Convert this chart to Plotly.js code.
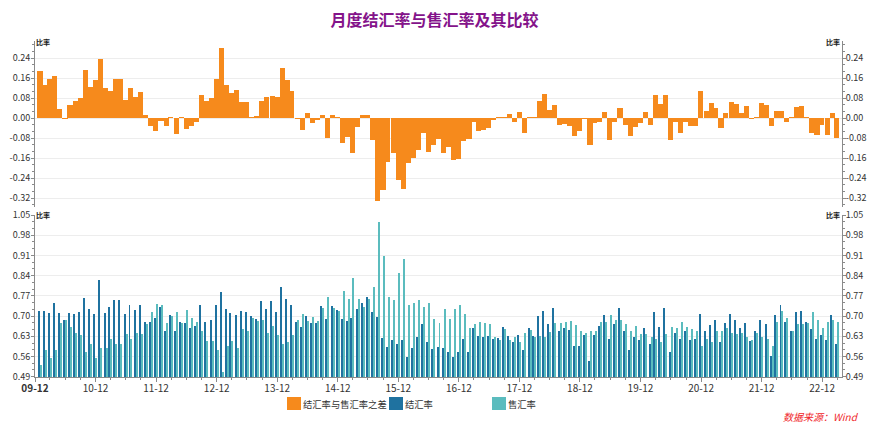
<!DOCTYPE html>
<html><head><meta charset="utf-8">
<script src="https://cdn.plot.ly/plotly-3.0.1.min.js"></script>
<style>html,body{margin:0;padding:0;background:#fff}#chart{width:869px;height:424px}</style>
</head><body><div id="chart"></div>
<script>
// ---- data (monthly, 2009-12 .. 2023-02) ----
const firstMonth = [2009, 12];
const diffRate = [0.188,0.132,0.156,0.168,0.036,-0.004,0.052,0.068,0.080,0.192,0.124,0.152,0.236,0.120,0.108,0.156,0.156,0.072,0.120,0.084,
0.104,0.012,-0.032,-0.052,-0.010,-0.030,0.003,-0.064,0.003,-0.044,-0.032,-0.016,0.092,0.068,0.080,0.156,0.280,0.132,0.100,0.112,
0.064,0.064,0.003,0.007,0.068,0.084,0.088,0.084,0.200,0.152,0.108,-0.005,-0.048,0.020,-0.020,-0.007,0.012,-0.080,0.012,0.003,
-0.100,-0.077,-0.140,-0.036,0.012,0.012,-0.088,-0.332,-0.288,-0.176,-0.140,-0.248,-0.284,-0.180,-0.160,-0.128,-0.060,-0.136,-0.107,-0.084,
-0.140,-0.115,-0.168,-0.165,-0.092,-0.084,-0.015,-0.052,-0.048,-0.040,-0.008,0.005,0.005,0.016,-0.016,0.024,-0.060,0.005,0.005,0.068,
0.096,0.032,0.052,-0.028,-0.024,-0.032,-0.072,-0.052,-0.005,-0.108,-0.020,-0.016,0.024,-0.088,-0.016,0.040,-0.028,-0.072,-0.036,-0.020,
0.024,-0.028,0.092,0.056,0.092,-0.088,-0.016,-0.060,-0.016,-0.032,-0.032,0.108,0.028,0.060,0.040,-0.040,0.020,0.064,0.056,0.020,
0.048,-0.005,0.005,0.060,0.052,-0.032,0.028,0.028,-0.016,0.003,0.044,0.047,0.005,-0.060,-0.068,-0.028,-0.068,0.020,-0.080];
const settleRate = [0.716,0.716,0.709,0.747,0.709,0.685,0.709,0.706,0.713,0.761,0.723,0.706,0.824,0.709,0.730,0.754,0.754,0.706,0.740,0.720,
0.740,0.681,0.681,0.692,0.730,0.647,0.704,0.650,0.680,0.675,0.657,0.665,0.737,0.678,0.688,0.737,0.782,0.723,0.709,0.702,
0.716,0.713,0.699,0.690,0.751,0.723,0.751,0.713,0.800,0.758,0.740,0.680,0.661,0.699,0.675,0.675,0.734,0.689,0.734,0.720,
0.689,0.682,0.692,0.724,0.745,0.765,0.713,0.696,0.623,0.592,0.616,0.602,0.616,0.557,0.588,0.627,0.672,0.609,0.585,0.592,
0.588,0.574,0.557,0.574,0.620,0.574,0.658,0.630,0.627,0.630,0.620,0.623,0.661,0.630,0.609,0.633,0.581,0.658,0.630,0.699,
0.717,0.672,0.727,0.647,0.658,0.651,0.598,0.598,0.633,0.543,0.633,0.664,0.702,0.619,0.671,0.727,0.647,0.584,0.629,0.616,
0.657,0.602,0.713,0.661,0.727,0.577,0.640,0.622,0.647,0.616,0.622,0.706,0.647,0.668,0.688,0.609,0.675,0.706,0.688,0.657,
0.675,0.612,0.647,0.685,0.671,0.563,0.702,0.740,0.678,0.650,0.713,0.716,0.681,0.654,0.619,0.633,0.616,0.702,0.605];
const saleRate = [0.532,0.584,0.556,0.581,0.675,0.688,0.661,0.640,0.633,0.574,0.602,0.556,0.591,0.591,0.622,0.602,0.602,0.637,0.622,0.640,
0.637,0.671,0.713,0.743,0.740,0.676,0.701,0.713,0.677,0.720,0.692,0.681,0.647,0.612,0.612,0.584,0.508,0.595,0.612,0.591,
0.654,0.649,0.695,0.684,0.685,0.643,0.664,0.633,0.602,0.609,0.633,0.686,0.706,0.682,0.696,0.682,0.727,0.765,0.727,0.717,
0.786,0.758,0.831,0.758,0.731,0.758,0.800,1.026,0.908,0.765,0.755,0.849,0.897,0.738,0.745,0.755,0.731,0.745,0.689,0.675,
0.724,0.689,0.724,0.738,0.706,0.658,0.672,0.679,0.675,0.672,0.627,0.616,0.654,0.616,0.627,0.609,0.640,0.651,0.627,0.630,
0.627,0.644,0.675,0.675,0.679,0.682,0.668,0.650,0.640,0.647,0.650,0.681,0.681,0.702,0.688,0.688,0.671,0.650,0.664,0.637,
0.637,0.629,0.622,0.609,0.637,0.661,0.657,0.678,0.661,0.654,0.650,0.598,0.619,0.609,0.650,0.647,0.657,0.643,0.637,0.640,
0.626,0.616,0.643,0.629,0.622,0.598,0.681,0.716,0.692,0.650,0.671,0.671,0.675,0.713,0.685,0.657,0.681,0.685,0.681];
const xTickLabels = ['<b>09-12</b>','10-12','11-12','12-12','13-12','14-12','15-12','16-12','17-12','18-12','19-12','20-12','21-12','22-12'];
const xTickDates = ['2009-12-01','2010-12-01','2011-12-01','2012-12-01','2013-12-01','2014-12-01','2015-12-01','2016-12-01','2017-12-01','2018-12-01','2019-12-01','2020-12-01','2021-12-01','2022-12-01'];
const topTickVals = [-0.32,-0.24,-0.16,-0.08,0,0.08,0.16,0.24];
const topTickText = ['-0.32','-0.24','-0.16','-0.08','0.00','0.08','0.16','0.24'];
const botTickVals = [0.49,0.56,0.63,0.70,0.77,0.84,0.91,0.98,1.05];
const botTickText = ['0.49','0.56','0.63','0.70','0.77','0.84','0.91','0.98','1.05'];
const seriesNames = ['结汇率与售汇率之差','结汇率','售汇率'];
const colors = ['#f68a1c','#1f72a0','#5bbcbe'];

// month-end dates for each value
const months = settleRate.map((_, i) => new Date(Date.UTC(firstMonth[0], firstMonth[1] - 1 + i + 1, 0)).toISOString().slice(0, 10));

// ---- layout geometry (px) ----
const W = 869, H = 424, ML = 35, MR = 27, MT = 41, MB = 47;
const PW = W - ML - MR, PH = H - MT - MB;
const px2x = p => (p - ML) / PW;
const px2y = p => (H - MB - p) / PH;
const DAY = 86400000;
const xRange = ['2009-12-01', '2023-03-31'];
const fontCJK = '"Noto Sans CJK SC", "Noto Sans", sans-serif';
const axisCol = '#8a8a8a', gridCol = '#ededed';
const tickFont = {family: fontCJK, size: 9, color: '#333'};

const traces = [
  {type: 'bar', name: seriesNames[0], x: months, y: diffRate, xaxis: 'x2', yaxis: 'y2',
   width: 30.6 * DAY, marker: {color: colors[0], line: {width: 0}}, showlegend: false},
  {type: 'bar', name: seriesNames[1], x: months, y: settleRate, xaxis: 'x', yaxis: 'y',
   width: 12 * DAY, offset: -12 * DAY, marker: {color: colors[1], line: {width: 0}}, showlegend: false},
  {type: 'bar', name: seriesNames[2], x: months, y: saleRate, xaxis: 'x', yaxis: 'y',
   width: 12 * DAY, offset: 0, marker: {color: colors[2], line: {width: 0}}, showlegend: false},
  {type: 'scatter', x: [], y: [], xaxis: 'x2', yaxis: 'y3', showlegend: false, hoverinfo: 'skip'},
  {type: 'scatter', x: [], y: [], xaxis: 'x', yaxis: 'y4', showlegend: false, hoverinfo: 'skip'}
];

const topDom = [px2y(206.7), 1], botDom = [0, px2y(215)];
const topRange = [-0.354, 0.309], botRange = [0.489, 1.05];
const minorTop = {tickmode: 'linear', tick0: 0, dtick: 0.08 / 3, ticks: 'outside', ticklen: 2, tickcolor: axisCol, showgrid: false};
const minorBot = {tickmode: 'linear', tick0: 0.49, dtick: 0.07 / 3, ticks: 'outside', ticklen: 2, tickcolor: axisCol, showgrid: false};
function yAx(extra) {
  return Object.assign({
    showline: true, linecolor: axisCol, linewidth: 1, ticks: 'outside', ticklen: 3, tickcolor: axisCol,
    showgrid: true, gridcolor: gridCol, gridwidth: 1, zeroline: false, tickfont: tickFont,
    tickmode: 'array', fixedrange: true, ticklabelstandoff: -1
  }, extra);
}
const layout = {
  width: W, height: H, margin: {l: ML, r: MR, t: MT, b: MB},
  paper_bgcolor: '#fff', plot_bgcolor: '#fff', barmode: 'overlay', bargap: 0,
  font: {family: fontCJK, color: '#333'},
  title: {text: '<b>月度结汇率与售汇率及其比较</b>', font: {family: fontCJK, size: 16, color: '#84138a'},
          x: 0.5, xanchor: 'center', y: 1 - 20 / H, yanchor: 'middle'},
  xaxis: {type: 'date', range: xRange, anchor: 'y', domain: [0, 1], showline: true, linecolor: axisCol,
          ticks: 'outside', ticklen: 4, tickcolor: axisCol, tickmode: 'array', tickvals: xTickDates, ticktext: xTickLabels,
          tickfont: {family: fontCJK, size: 10, color: '#333'}, showgrid: false, zeroline: false, ticklabelstandoff: -2,
          minor: {dtick: 'M3', tick0: '2009-12-01', ticks: 'outside', ticklen: 2, tickcolor: axisCol, showgrid: false}},
  xaxis2: {type: 'date', range: xRange, anchor: 'y2', matches: 'x', showticklabels: false, showline: false,
           ticks: '', showgrid: false, zeroline: false},
  yaxis: yAx({domain: botDom, range: botRange, anchor: 'x', tickvals: botTickVals, ticktext: botTickText, minor: minorBot}),
  yaxis2: yAx({domain: topDom, range: topRange, anchor: 'x2', tickvals: topTickVals, ticktext: topTickText, minor: minorTop}),
  yaxis3: yAx({overlaying: 'y2', side: 'right', anchor: 'x2', range: topRange, tickvals: topTickVals, ticktext: topTickText,
               showgrid: false, minor: minorTop, ticklabelstandoff: -2}),
  yaxis4: yAx({overlaying: 'y', side: 'right', anchor: 'x', range: botRange, tickvals: botTickVals, ticktext: botTickText,
               showgrid: false, minor: minorBot, ticklabelstandoff: -2}),
  shapes: [], annotations: []
};

// axis unit labels
const unitFont = {family: fontCJK, size: 7, color: '#222'};
[42, 215].forEach(py => {
  layout.annotations.push({xref: 'paper', yref: 'paper', x: px2x(35), y: px2y(py), xanchor: 'left', yanchor: 'middle',
    text: '<b>比率</b>', showarrow: false, font: unitFont, borderpad: 0});
  layout.annotations.push({xref: 'paper', yref: 'paper', x: px2x(841), y: px2y(py), xanchor: 'right', yanchor: 'middle',
    text: '<b>比率</b>', showarrow: false, font: unitFont, borderpad: 0});
});

// legend (custom squares + text)
const legendX = [287, 389, 492];
seriesNames.forEach((nm, k) => {
  layout.shapes.push({type: 'rect', xref: 'paper', yref: 'paper', x0: px2x(legendX[k]), x1: px2x(legendX[k] + 14),
    y0: px2y(410), y1: px2y(397), fillcolor: colors[k], line: {width: 0}});
  layout.annotations.push({xref: 'paper', yref: 'paper', x: px2x(legendX[k] + 15), y: px2y(404), xanchor: 'left', yanchor: 'middle',
    text: nm, showarrow: false, font: {family: fontCJK, size: 9.3, color: '#333'}, borderpad: 0});
});

// source note
layout.annotations.push({xref: 'paper', yref: 'paper', x: px2x(782), y: px2y(416.5), xanchor: 'left', yanchor: 'middle',
  text: '<i>数据来源：Wind</i>', showarrow: false, font: {family: fontCJK, size: 10, color: '#f0262a'}, borderpad: 0});

Plotly.newPlot('chart', traces, layout, {staticPlot: true, displayModeBar: false});
</script>
</body></html>
